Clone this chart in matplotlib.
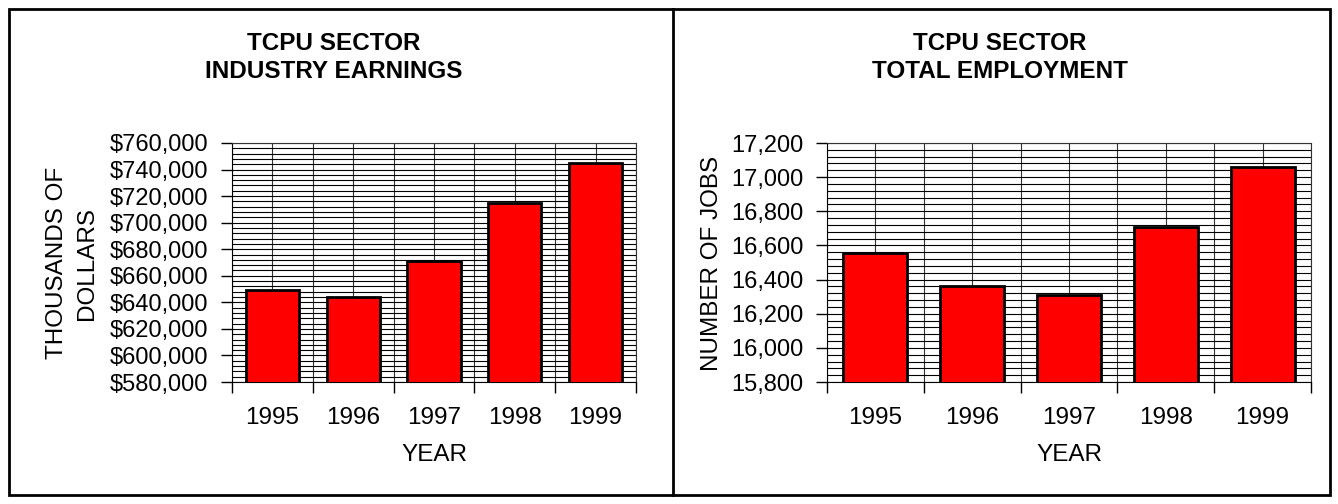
import matplotlib
matplotlib.use("Agg")
import matplotlib.pyplot as plt
from matplotlib.ticker import MultipleLocator, FixedLocator, FuncFormatter
from matplotlib.patches import Rectangle
from matplotlib.lines import Line2D

years = ["1995", "1996", "1997", "1998", "1999"]
earnings = [649000, 644000, 671000, 715000, 745000]
jobs = [16553, 16360, 16310, 16706, 17062]

plt.rcParams['font.family'] = ['Liberation Sans', 'DejaVu Sans']

W, H = 1338, 504
fig = plt.figure(figsize=(W / 100, H / 100), dpi=100)

def px_axes(x0, y0, x1, y1):
    return fig.add_axes([x0 / W, 1 - y1 / H, (x1 - x0) / W, (y1 - y0) / H])

def ftext(x, y, s, **kw):
    return fig.text(x / W, 1 - y / H, s, ha='center', va='center', **kw)

# outer borders
fig.add_artist(Rectangle((9 / W, 9 / H), (1330 - 9) / W, (495 - 9) / H, transform=fig.transFigure,
                         fill=False, edgecolor='black', linewidth=2))
fig.add_artist(Line2D([673 / W, 673 / W], [9 / H, 495 / H], transform=fig.transFigure,
                      color='black', linewidth=2))

FS = 17.5
TFS = 17.5

def draw(ax, vals, ymin, ymax, major, minor, fmt):
    x = list(range(len(years)))
    ax.bar(x, vals, width=0.66, bottom=0, color='#ff0000', edgecolor='black', linewidth=2, zorder=3)
    ax.set_ylim(ymin, ymax)
    ax.set_xlim(-0.5, len(years) - 0.5)
    ax.yaxis.set_major_locator(MultipleLocator(major))
    ax.yaxis.set_minor_locator(MultipleLocator(minor))
    ax.yaxis.set_major_formatter(FuncFormatter(fmt))
    ax.set_xticks(x)
    ax.set_xticklabels(years)
    ax.xaxis.set_minor_locator(FixedLocator([i - 0.5 for i in range(len(years) + 1)]))
    ax.grid(True, which='both', axis='y', color='black', linewidth=0.8, zorder=0)
    ax.grid(True, which='both', axis='x', color='#333333', linewidth=0.8, zorder=0)
    ax.set_axisbelow(True)
    ax.tick_params(axis='y', which='major', direction='out', length=8, width=1, labelsize=17, pad=9)
    ax.tick_params(axis='y', which='minor', length=0)
    ax.tick_params(axis='x', which='major', length=0, labelsize=FS, pad=18)
    ax.tick_params(axis='x', which='minor', direction='out', length=8, width=1)
    for s in ax.spines.values():
        s.set_color('#333333')
        s.set_linewidth(0.8)
    ax.spines['left'].set_color('black')
    ax.spines['bottom'].set_color('black')

# left chart
ax1 = px_axes(232, 143, 636, 382)
draw(ax1, earnings, 580000, 760000, 20000, 4000, lambda v, p: "${:,.0f}".format(v))
ftext(57, 263, "THOUSANDS OF", fontsize=FS, rotation=90)
ftext(87, 263, "DOLLARS", fontsize=FS, rotation=90)
ftext(434, 455, "YEAR", fontsize=FS)
ftext(334, 43, "TCPU SECTOR", fontsize=TFS, fontweight='bold')
ftext(334, 72, "INDUSTRY EARNINGS", fontsize=TFS, fontweight='bold')

# right chart
ax2 = px_axes(827, 143, 1311, 382)
draw(ax2, jobs, 15800, 17200, 200, 40, lambda v, p: "{:,.0f}".format(v))
ftext(712, 263, "NUMBER OF JOBS", fontsize=FS, rotation=90)
ftext(1069, 455, "YEAR", fontsize=FS)
ftext(1000, 43, "TCPU SECTOR", fontsize=TFS, fontweight='bold')
ftext(1000, 72, "TOTAL EMPLOYMENT", fontsize=TFS, fontweight='bold')

fig.savefig("out.png", dpi=100)
